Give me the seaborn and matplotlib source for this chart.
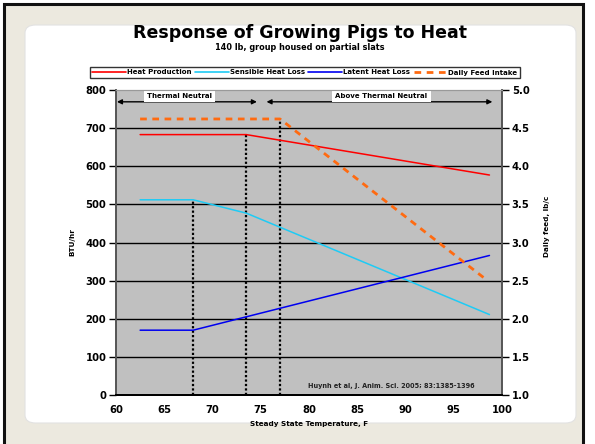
import numpy as np
import pandas as pd
import matplotlib
matplotlib.use("Agg")
import matplotlib.pyplot as plt
from matplotlib.patches import FancyBboxPatch, Rectangle
from matplotlib.lines import Line2D
import seaborn as sns

# ---- data ----
title = "Response of Growing Pigs to Heat"
subtitle = "140 lb, group housed on partial slats"
hp_temp = [62.5, 73.5, 98.7]
hp_val = [683, 683, 577]
sens_temp = [62.5, 68.0, 73.5, 98.7]
sens_val = [512, 512, 477, 211]
lat_temp = [62.5, 68.0, 98.7]
lat_val = [170, 170, 366]
feed_temp = [62.5, 77.0, 98.5]
feed_val = [4.62, 4.62, 2.50]
thresholds = [68.0, 73.5, 77.0]
x_ticks = [60, 65, 70, 75, 80, 85, 90, 95, 100]
left_ticks = [0, 100, 200, 300, 400, 500, 600, 700, 800]
right_ticks = [1.0, 1.5, 2.0, 2.5, 3.0, 3.5, 4.0, 4.5, 5.0]
zones = [("Thermal Neutral", 60.1, 74.6, 66.6), ("Above Thermal Neutral", 75.6, 99.0, 87.5)]
credit = "Huynh et al, J. Anim. Sci. 2005; 83:1385-1396"

colors = {"Heat Production": "#FF0000", "Sensible Heat Loss": "#1ECBF5",
          "Latent Heat Loss": "#0000F0"}
feed_color = "#FF6A10"

left_df = pd.concat([
    pd.DataFrame({"T": hp_temp, "v": hp_val, "s": "Heat Production"}),
    pd.DataFrame({"T": sens_temp, "v": sens_val, "s": "Sensible Heat Loss"}),
    pd.DataFrame({"T": lat_temp, "v": lat_val, "s": "Latent Heat Loss"}),
], ignore_index=True)
feed_df = pd.DataFrame({"T": feed_temp, "v": feed_val, "s": "Daily Feed Intake"})

sns.set_theme(style="white")
plt.rcParams["font.family"] = ["DejaVu Sans"]
plt.rcParams["font.weight"] = "bold"
for k in ("text.color", "xtick.color", "ytick.color", "axes.labelcolor"):
    plt.rcParams[k] = "black"

W, H = 595, 444
fig = plt.figure(figsize=(W / 100, H / 100), dpi=100)
fig.patch.set_facecolor("white")

def fx(px): return px / W
def fy(py): return 1 - py / H

# outer beige frame with black border
fig.patches.append(Rectangle((fx(4), fy(460)), fx(583) - fx(4), fy(4) - fy(460),
                             transform=fig.transFigure, facecolor="#ECE9DF",
                             edgecolor="#111111", linewidth=2.2, zorder=-3))
# white rounded panel
fig.patches.append(FancyBboxPatch((fx(25), fy(423)), fx(576) - fx(25), fy(25) - fy(423),
                                  boxstyle="round,pad=0,rounding_size=0.018",
                                  transform=fig.transFigure, facecolor="white",
                                  edgecolor="#E2E2E2", linewidth=0.8, zorder=-2))

ax = fig.add_axes([fx(116), fy(395), fx(502) - fx(116), fy(90) - fy(395)])
ax.set_facecolor("#C0C0C0")
ax2 = ax.twinx()

sns.lineplot(data=left_df, x="T", y="v", hue="s", palette=colors, ax=ax,
             linewidth=1.1, legend=False, zorder=4, sort=False, estimator=None)
sns.lineplot(data=feed_df, x="T", y="v", color=feed_color, ax=ax2,
             linewidth=2.0, legend=False, zorder=4, sort=False, estimator=None)
for l in ax2.lines:
    l.set_dashes((2.4, 2.0))

ax.set_xlim(60, 100)
ax.set_ylim(0, 800)
ax2.set_ylim(1.0, 5.0)
ax.set_xticks(x_ticks)
ax.set_yticks(left_ticks)
ax2.set_yticks(right_ticks)
ax.set_xticklabels([str(t) for t in x_ticks], fontsize=7.2, fontweight="bold")
ax.set_yticklabels([str(t) for t in left_ticks], fontsize=7.2, fontweight="bold")
ax2.set_yticklabels([f"{t:.1f}" for t in right_ticks], fontsize=7.2, fontweight="bold")
ax.set_xlabel("")
ax.set_ylabel("")
ax2.set_ylabel("")

for t in left_ticks[1:-1]:
    ax.axhline(t, color="black", linewidth=1.0, zorder=1)

ax.tick_params(axis="y", direction="out", length=5, width=1, color="black", pad=2)
ax.tick_params(axis="x", direction="out", length=3, width=1, color="black", pad=4)
ax2.tick_params(axis="y", direction="out", length=5, width=1, color="black", pad=2)
for a in (ax, ax2):
    a.spines["left"].set_color("#555555")
    a.spines["right"].set_color("#555555")
    a.spines["top"].set_color("#999999")
    a.spines["bottom"].set_color("black")
    a.spines["bottom"].set_linewidth(1.4)
    a.spines["left"].set_linewidth(1.2)
    a.spines["right"].set_linewidth(1.2)
    a.spines["top"].set_linewidth(0.8)
ax2.patch.set_visible(False)

# vertical dotted threshold lines up to the series they mark
tops = [np.interp(thresholds[0], sens_temp, sens_val),
        np.interp(thresholds[1], hp_temp, hp_val),
        (np.interp(thresholds[2], feed_temp, feed_val) - 1.0) / 4.0 * 800]
for xv, top in zip(thresholds, tops):
    ax.plot([xv, xv], [0, top], color="black", linestyle=(0, (1, 1)),
            linewidth=1.6, zorder=3)

# zone arrows and labels
for label, x0, x1, xc in zones:
    ax.annotate("", xy=(x1, 769), xytext=(x0, 769),
                arrowprops=dict(arrowstyle="<|-|>", color="black", lw=1.0,
                                mutation_scale=7, shrinkA=0, shrinkB=0), zorder=5)
    ax.text(xc, 785, label, ha="center", va="center", fontsize=5.0, fontweight="bold",
            zorder=6, bbox=dict(boxstyle="square,pad=0.45", facecolor="white",
                                edgecolor="none"))

ax.text(88.5, 24, credit, ha="center", va="center", fontsize=4.7, fontweight="bold",
        color="#222222", zorder=6)

fig.text(fx(300), fy(33), title, ha="center", va="center", fontsize=12.5,
         fontweight="bold")
fig.text(fx(300), fy(48), subtitle, ha="center", va="center", fontsize=5.9,
         fontweight="bold")
fig.text(fx(309), fy(424), "Steady State Temperature, F", ha="center", va="center",
         fontsize=5.2, fontweight="bold")
fig.text(fx(72), fy(242), "BTU/hr", ha="center", va="center", rotation=90,
         fontsize=5.2, fontweight="bold")
fig.text(fx(547), fy(226), "Daily feed, lb/c", ha="center", va="center", rotation=90,
         fontsize=5.2, fontweight="bold")

# legend
handles = [Line2D([], [], color=colors["Heat Production"], lw=1.2),
           Line2D([], [], color=colors["Sensible Heat Loss"], lw=1.2),
           Line2D([], [], color=colors["Latent Heat Loss"], lw=1.2),
           Line2D([], [], color=feed_color, lw=2.0, dashes=(2.4, 2.0))]
labels = ["Heat Production", "Sensible Heat Loss", "Latent Heat Loss", "Daily Feed Intake"]
leg = fig.legend(handles, labels, loc="center", bbox_to_anchor=(fx(305), fy(72.5)),
                 ncol=4, fontsize=5.0, frameon=True, fancybox=False,
                 handlelength=4.8, handletextpad=0.2, columnspacing=0.5,
                 borderpad=0.4, borderaxespad=0)
leg.get_frame().set_edgecolor("black")
leg.get_frame().set_linewidth(1.0)
for t in leg.get_texts():
    t.set_fontweight("bold")

fig.savefig("out.png", dpi=100, facecolor=fig.get_facecolor())
